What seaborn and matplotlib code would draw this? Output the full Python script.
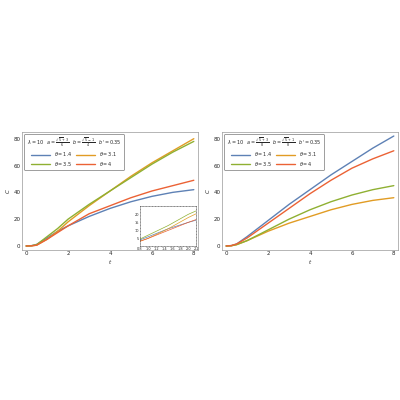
import matplotlib
matplotlib.use("Agg")
import matplotlib.pyplot as plt
import seaborn as sns
import pandas as pd

t = [0, 0.25, 0.5, 1, 1.5, 2, 3, 4, 5, 6, 7, 8]
labels = [r"$\theta=1.4$", r"$\theta=3.1$", r"$\theta=3.5$", r"$\theta=4$"]
colors = ["#5e81b5", "#e19c24", "#8fb032", "#eb6235"]
left = {
    labels[0]: [0, 0.2, 1.2, 6, 11, 15, 22, 28, 33, 37, 40, 42],
    labels[1]: [0, 0.1, 0.6, 5, 11, 18, 30, 41, 52, 62, 71, 80],
    labels[2]: [0, 0.2, 1.0, 7, 13, 20, 31, 41, 51, 61, 70, 78],
    labels[3]: [0, 0.1, 0.6, 5, 10, 15, 24, 30, 36, 41, 45, 49],
}
right = {
    labels[0]: [0, 0.3, 1.5, 7, 13, 19, 31, 42, 53, 63, 73, 82],
    labels[1]: [0, 0.2, 1.0, 4, 7.5, 11, 17, 22, 27, 31, 34, 36],
    labels[2]: [0, 0.2, 1.0, 4, 8, 12, 20, 27, 33, 38, 42, 45],
    labels[3]: [0, 0.3, 1.5, 6, 11.5, 17, 28, 39, 49, 58, 65, 71],
}
titles = [r"$\lambda=10$   $a=\frac{\sqrt{5}+3}{6}$   $b=\frac{\sqrt{5}-1}{4}$   $b'=0.35$",
          r"$\lambda=10$   $a=\frac{\sqrt{5}+3}{8}$   $b=\frac{\sqrt{5}+1}{8}$   $b'=0.35$"]

def df(d):
    return pd.DataFrame([(ti, k, v) for k, vals in d.items() for ti, v in zip(t, vals)],
                        columns=["t", "theta", "C"])

sns.set_style("white")
fig = plt.figure(figsize=(4, 4), dpi=100)
pal = dict(zip(labels, colors))
for i, (d, x0) in enumerate([(left, 0.055), (right, 0.555)]):
    ax = fig.add_axes([x0, 0.375, 0.44, 0.295])
    sns.lineplot(data=df(d), x="t", y="C", hue="theta", palette=pal, ax=ax, lw=1)
    ax.set_xlim(-0.2, 8.2); ax.set_ylim(-3, 85)
    ax.set_xticks([0, 2, 4, 6, 8]); ax.set_yticks([0, 20, 40, 60, 80])
    ax.tick_params(labelsize=4, length=1.5, pad=1, direction="in")
    ax.set_xlabel("$t$", fontsize=4, labelpad=1); ax.set_ylabel("$C$", fontsize=4, labelpad=1)
    for s in ax.spines.values(): s.set_linewidth(0.5); s.set_color("#999999")
    h, l = ax.get_legend_handles_labels()
    order = [0, 2, 1, 3]
    leg = ax.legend([h[k] for k in order], [l[k] for k in order], ncol=2, fontsize=3.5,
                    title=titles[i], title_fontsize=3.5,
                    loc="upper left", frameon=True, handlelength=4, columnspacing=0.6,
                    borderpad=0.5, labelspacing=0.3, fancybox=True)
    leg.get_frame().set_edgecolor("#555555"); leg.get_frame().set_linewidth(0.5)
    if i == 0:
        ins = ax.inset_axes([0.67, 0.03, 0.32, 0.34])
        sns.lineplot(data=df(d), x="t", y="C", hue="theta", palette=pal, ax=ins, lw=0.5, legend=False)
        ins.set_xlim(0.8, 2.2); ins.set_ylim(0, 25)
        ins.set_xticks([0.8, 1.0, 1.2, 1.4, 1.6, 1.8, 2.0, 2.2]); ins.set_yticks([5, 10, 15, 20])
        ins.tick_params(labelsize=2.5, length=1, pad=0.5, direction="in")
        ins.set_xlabel(""); ins.set_ylabel("")
        for s in ins.spines.values(): s.set_linewidth(0.4); s.set_linestyle(":")
fig.savefig("out.png", dpi=100, facecolor="white")
